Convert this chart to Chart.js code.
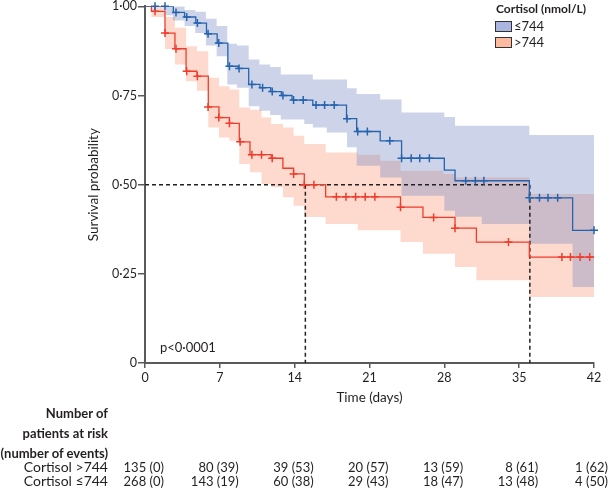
<!DOCTYPE html>
<html><head><meta charset="utf-8">
<script src="https://cdn.jsdelivr.net/npm/chart.js@4.4.1/dist/chart.umd.min.js"></script>
<style>
html,body{margin:0;padding:0;background:#fff;}
#wrap{position:relative;width:610px;height:489px;font-family:Lato,'Open Sans',sans-serif;color:#231f20;overflow:hidden;}
#c{position:absolute;left:0;top:0;}
.t{position:absolute;white-space:nowrap;line-height:16px;}
.b{font-weight:bold;}
.box{position:absolute;width:15px;height:9px;border:1px solid #333;}
</style></head><body>
<div id="wrap"><canvas id="c" width="610" height="489"></canvas></div>
<script>
// ---------- data ----------
const xTickValues = [0, 7, 14, 21, 28, 35, 42];
const xTickLabels = ['0', '7', '14', '21', '28', '35', '42'];
const yTickValues = [0, 0.25, 0.5, 0.75, 1];
const yTickLabels = ['0', '0·25', '0·50', '0·75', '1·00'];

const groups = ['≤744', '>744'];

// Cortisol <=744 (blue) step curve: time at which survival becomes value
const lowTimes = [0, 2.65, 3.7, 4.75, 5.75, 6.75, 7.75, 8.7, 9.7, 10.75, 11.75, 12.75, 13.75, 15.7, 18.85, 19.8, 22.0, 24.0, 28.0, 29.0, 35.95, 40.0, 42];
const lowSurv  = [1, 0.983, 0.97, 0.953, 0.923, 0.897, 0.832, 0.826, 0.781, 0.772, 0.761, 0.75, 0.737, 0.723, 0.685, 0.649, 0.623, 0.574, 0.541, 0.511, 0.463, 0.372, 0.372];
const lowCensTimes = [0.94, 1.87, 2.9, 3.9, 4.9, 5.9, 6.9, 7.9, 8.8, 10.0, 11.0, 11.9, 12.9, 13.9, 14.8, 16.0, 16.8, 17.7, 18.9, 19.9, 20.8, 22.9, 24.0, 24.9, 25.7, 26.6, 30.0, 30.9, 31.7, 35.95, 36.9, 37.7, 38.6, 42];
const lowCensSurv  = [1, 1, 0.983, 0.97, 0.953, 0.923, 0.897, 0.832, 0.826, 0.781, 0.772, 0.761, 0.75, 0.737, 0.737, 0.723, 0.723, 0.723, 0.685, 0.649, 0.649, 0.623, 0.574, 0.574, 0.574, 0.574, 0.511, 0.511, 0.511, 0.463, 0.463, 0.463, 0.463, 0.372];
const lowBandTimes = [0, 1.9, 2.6, 3.7, 4.7, 5.7, 6.7, 7.7, 8.6, 9.7, 10.7, 11.7, 12.7, 14.9, 15.7, 17.0, 18.9, 19.8, 22.0, 24.0, 28.0, 29.0, 31.5, 35.95, 40.0, 42];
const lowBandUpper = [1, 1, 1, 0.99, 0.985, 0.965, 0.945, 0.895, 0.89, 0.851, 0.837, 0.83, 0.809, 0.809, 0.795, 0.795, 0.77, 0.754, 0.739, 0.702, 0.69, 0.665, 0.665, 0.639, 0.639, 0.639];
const lowBandLower = [1, 0.975, 0.96, 0.945, 0.925, 0.89, 0.86, 0.781, 0.772, 0.72, 0.707, 0.695, 0.683, 0.67, 0.66, 0.646, 0.605, 0.553, 0.52, 0.469, 0.427, 0.41, 0.39, 0.334, 0.213, 0.213];

// Cortisol >744 (red)
const highTimes = [0, 0.6, 1.87, 2.8, 3.84, 4.86, 5.92, 6.92, 7.9, 8.82, 9.82, 11.8, 12.9, 13.9, 14.9, 16.9, 23.9, 26.0, 29.0, 31.0, 35.95, 42];
const highSurv  = [1, 0.986, 0.925, 0.881, 0.818, 0.804, 0.718, 0.688, 0.672, 0.62, 0.584, 0.574, 0.546, 0.53, 0.5, 0.466, 0.437, 0.408, 0.378, 0.339, 0.297, 0.297];
const highCensTimes = [0.94, 1.87, 2.9, 3.9, 4.9, 5.9, 6.9, 7.9, 8.9, 10.0, 10.9, 11.9, 13.9, 14.9, 15.8, 17.9, 18.8, 19.7, 20.6, 21.5, 23.9, 27.0, 29.0, 34.0, 39.0, 39.8, 40.7, 41.6];
const highCensSurv  = [0.986, 0.925, 0.881, 0.818, 0.804, 0.718, 0.688, 0.672, 0.62, 0.584, 0.584, 0.574, 0.53, 0.5, 0.5, 0.466, 0.466, 0.466, 0.466, 0.466, 0.437, 0.408, 0.378, 0.339, 0.297, 0.297, 0.297, 0.297];
const highBandTimes = [0, 0.6, 1.87, 2.8, 3.84, 4.86, 5.92, 6.92, 7.9, 8.82, 9.82, 10.9, 11.8, 12.9, 13.9, 14.9, 16.9, 19.9, 22.0, 23.9, 26.0, 27.9, 29.0, 31.0, 35.95, 42];
const highBandUpper = [1, 1, 0.97, 0.94, 0.888, 0.874, 0.80, 0.776, 0.767, 0.716, 0.71, 0.688, 0.67, 0.66, 0.637, 0.614, 0.59, 0.584, 0.567, 0.539, 0.539, 0.53, 0.52, 0.52, 0.474, 0.474];
const highBandLower = [1, 0.97, 0.88, 0.837, 0.79, 0.763, 0.66, 0.632, 0.623, 0.558, 0.535, 0.502, 0.493, 0.465, 0.441, 0.409, 0.39, 0.372, 0.372, 0.339, 0.306, 0.306, 0.269, 0.232, 0.185, 0.185];

// median survival reference
const medianLevel = 0.5;
const medianTimes = [15, 36];   // >744, <=744

// numbers at risk
const riskTimes = [0, 7, 14, 21, 28, 35, 42];
const riskHigh = [135, 80, 39, 20, 13, 8, 1];
const eventsHigh = [0, 39, 53, 57, 59, 61, 62];
const riskLow = [268, 143, 60, 29, 18, 13, 4];
const eventsLow = [0, 19, 38, 43, 47, 48, 50];

// ---------- styles ----------
const BLUE = '#2563ad', RED = '#ee3d2c';
const BLUE_BAND = 'rgba(100,120,190,0.32)', RED_BAND = 'rgba(250,140,100,0.32)';
const FONT = "Lato, 'Open Sans', sans-serif";
const AXIS = '#5a5a5a';

const pts = (xs, ys) => xs.map((x, i) => ({x: x, y: ys[i]}));

const datasets = [
  {label: 'hiU', data: pts(highBandTimes, highBandUpper), stepped: true, borderWidth: 0, pointRadius: 0, fill: false, order: 10},
  {label: 'hiL', data: pts(highBandTimes, highBandLower), stepped: true, borderWidth: 0, pointRadius: 0, fill: '-1', backgroundColor: RED_BAND, order: 10},
  {label: 'loU', data: pts(lowBandTimes, lowBandUpper), stepped: true, borderWidth: 0, pointRadius: 0, fill: false, order: 9},
  {label: 'loL', data: pts(lowBandTimes, lowBandLower), stepped: true, borderWidth: 0, pointRadius: 0, fill: '-1', backgroundColor: BLUE_BAND, order: 9},
  {label: 'med1', data: [{x: 0, y: medianLevel}, {x: medianTimes[1], y: medianLevel}, {x: medianTimes[1], y: 0}], borderColor: '#222', borderWidth: 1.5, borderDash: [4, 3], pointRadius: 0, fill: false, order: 5},
  {label: 'med2', data: [{x: medianTimes[0], y: medianLevel}, {x: medianTimes[0], y: 0}], borderColor: '#222', borderWidth: 1.5, borderDash: [4, 3], pointRadius: 0, fill: false, order: 5},
  {label: groups[1], data: pts(highTimes, highSurv), stepped: true, borderColor: RED, borderWidth: 1.3, pointRadius: 0, fill: false, order: 4},
  {label: groups[0], data: pts(lowTimes, lowSurv), stepped: true, borderColor: BLUE, borderWidth: 1.3, pointRadius: 0, fill: false, order: 3},
  {label: 'hiC', data: pts(highCensTimes, highCensSurv), showLine: false, pointStyle: 'cross', pointRadius: 4, pointBorderColor: RED, pointBorderWidth: 1.5, order: 2, clip: 8},
  {label: 'loC', data: pts(lowCensTimes, lowCensSurv), showLine: false, pointStyle: 'cross', pointRadius: 4, pointBorderColor: BLUE, pointBorderWidth: 1.5, order: 1, clip: 8}
];

const chart = new Chart(document.getElementById('c'), {
  type: 'line',
  data: {datasets: datasets},
  options: {
    responsive: false, animation: false,
    layout: {padding: {left: 0, right: 16, top: 5, bottom: 0}},
    plugins: {legend: {display: false}, tooltip: {enabled: false}},
    elements: {line: {tension: 0}},
    scales: {
      x: {
        type: 'linear', min: 0, max: 42,
        afterFit: s => { s.height = 126; },
        afterBuildTicks: s => { s.ticks = xTickValues.map(v => ({value: v})); },
        ticks: {callback: v => xTickLabels[xTickValues.indexOf(v)], font: {family: FONT, size: 12.5}, color: '#231f20', padding: 2, maxRotation: 0},
        grid: {drawOnChartArea: false, drawTicks: true, tickLength: 5, color: AXIS, lineWidth: 1.5},
        border: {color: AXIS, width: 2},
        title: {display: true, text: 'Time (days)', font: {family: FONT, size: 13.5}, color: '#231f20', padding: {top: 0, bottom: 83}}
      },
      y: {
        type: 'linear', min: 0, max: 1,
        afterFit: s => { s.width = 145; },
        afterBuildTicks: s => { s.ticks = yTickValues.map(v => ({value: v})); },
        ticks: {callback: v => yTickLabels[yTickValues.indexOf(v)], font: {family: FONT, size: 12.5, lineHeight: 0.85}, color: '#231f20', padding: 1},
        grid: {drawOnChartArea: false, drawTicks: true, tickLength: 7, color: AXIS, lineWidth: 1.5},
        border: {color: AXIS, width: 2},
        title: {display: true, text: 'Survival probability', font: {family: FONT, size: 13.5}, color: '#231f20', padding: {top: 86, bottom: 0}}
      }
    }
  }
});

// ---------- HTML text: legend, p value, risk table ----------
const wrap = document.getElementById('wrap');
function addText(txt, left, cy, opts) {
  const d = document.createElement('div');
  d.className = 't' + (opts && opts.bold ? ' b' : '');
  d.textContent = txt;
  d.style.fontSize = ((opts && opts.size) || 12) + 'px';
  d.style.top = (cy - 8) + 'px';
  if (opts && opts.right) { d.style.right = (610 - left) + 'px'; } else { d.style.left = left + 'px'; }
  wrap.appendChild(d);
  return d;
}
function addBox(left, top, color) {
  const b = document.createElement('div');
  b.className = 'box'; b.style.left = left + 'px'; b.style.top = top + 'px'; b.style.background = color;
  wrap.appendChild(b);
}
// legend
addText('Cortisol (nmol/L)', 496, 9, {bold: true, size: 12});
addBox(495, 21, '#aab5e0'); addText(groups[0], 514, 26, {size: 13});
addBox(495, 37, '#fcbaa0'); addText(groups[1], 514, 42, {size: 13});
// p value
addText('p<0·0001', 160, 347, {size: 13});
// risk table
addText('Number of', 108, 413, {bold: true, size: 13, right: true});
addText('patients at risk', 108, 433, {bold: true, size: 13, right: true});
addText('(number of events)', 108, 453, {bold: true, size: 13, right: true});
addText('Cortisol ' + groups[1], 108, 467, {size: 14, right: true});
addText('Cortisol ' + groups[0], 108, 481, {size: 14, right: true});
const xs = chart.scales.x;
riskTimes.forEach((t, i) => {
  const r = Math.min(xs.getPixelForValue(t) + 19, 608);
  addText(riskHigh[i] + ' (' + eventsHigh[i] + ')', r, 467, {size: 13, right: true});
  addText(riskLow[i] + ' (' + eventsLow[i] + ')', r, 481, {size: 13, right: true});
});
</script>
</body></html>
